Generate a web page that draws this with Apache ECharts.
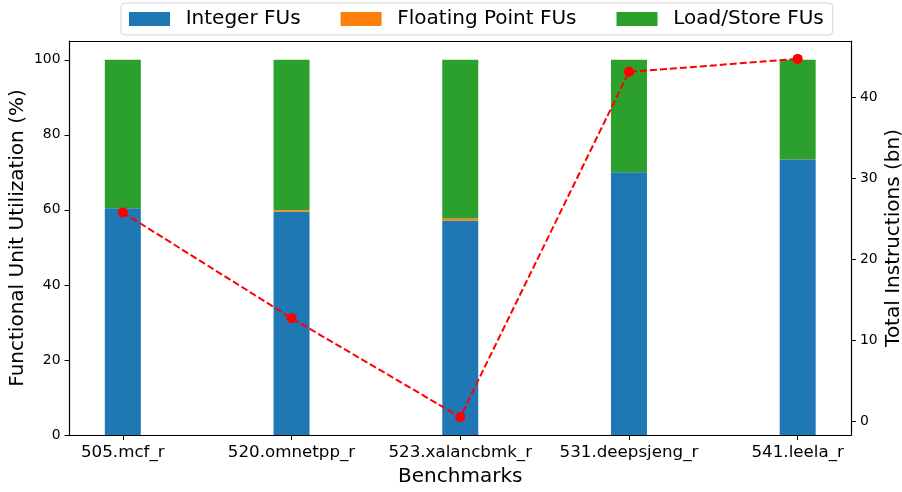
<!DOCTYPE html>
<html>
<head>
<meta charset="utf-8">
<script src="https://cdn.jsdelivr.net/npm/echarts@6/dist/echarts.min.js"></script>
<style>
  html, body { margin: 0; padding: 0; background: #fff; }
  #chart { width: 902px; height: 492px; }
</style>
</head>
<body>
<div id="chart"></div>
<script>
// Benchmarks and their functional-unit utilisation split (%)
const benchmarks = ['505.mcf_r', '520.omnetpp_r', '523.xalancbmk_r', '531.deepsjeng_r', '541.leela_r'];
const integerFUs = [60.4, 59.5, 57.1, 70.0, 73.5];
const floatFUs = [0.05, 0.4, 0.6, 0.02, 0.02];
const loadStoreFUs = [39.55, 40.1, 42.3, 29.98, 26.48];
// Total dynamic instructions per benchmark (billions)
const totalInstructions = [25.75, 12.7, 0.49, 43.09, 44.69];
const leftTicks = [0, 20, 40, 60, 80, 100];
const rightTicks = [0, 10, 20, 30, 40];

const FONT = 'DejaVu Sans';
const BAR_PX = 36;
const idx = benchmarks.map((_, i) => i);

// Stack the three utilisation components: each segment is [index, base, top]
const layers = [integerFUs, floatFUs, loadStoreFUs];
const running = benchmarks.map(() => 0);
const stacked = layers.map(vals => vals.map((v, i) => {
  const seg = [i, running[i], running[i] + v];
  running[i] += v;
  return seg;
}));

function renderSegment(params, api) {
  const x = api.value(0);
  const p0 = api.coord([x, api.value(1)]);
  const p1 = api.coord([x, api.value(2)]);
  return {
    type: 'rect',
    shape: { x: p0[0] - BAR_PX / 2, y: p1[1], width: BAR_PX, height: p0[1] - p1[1] },
    style: { fill: api.visual('color') }
  };
}

const barSeries = (name, k, color) => ({
  name, type: 'custom', xAxisIndex: 0, yAxisIndex: 0,
  renderItem: renderSegment,
  encode: { x: 0, y: [1, 2] },
  data: stacked[k],
  itemStyle: { color }, emphasis: { disabled: true }, z: 2
});

const chart = echarts.init(document.getElementById('chart'), null, { renderer: 'canvas' });

chart.setOption({
  animation: false,
  textStyle: { fontFamily: FONT, color: '#000' },
  grid: { left: 69.5, right: 51, top: 41, bottom: 57, containLabel: false, outerBoundsMode: 'none' },
  legend: {
    data: ['Integer FUs', 'Floating Point FUs', 'Load/Store FUs'],
    left: 121, top: 3,
    itemWidth: 41, itemHeight: 14, itemGap: 40,
    padding: [6, 9, 6, 8],
    backgroundColor: '#fff', borderColor: '#d6d6d6', borderWidth: 1, borderRadius: 4,
    textStyle: { fontFamily: FONT, fontSize: 20, color: '#000', padding: [0, 0, 0, 10.7] },
    icon: 'rect', selectedMode: false
  },
  xAxis: [{
    type: 'value', position: 'bottom', min: -0.316, max: 4.316,
    name: 'Benchmarks', nameLocation: 'middle', nameGap: 32, nameMoveOverlap: false,
    nameTextStyle: { fontFamily: FONT, fontSize: 20, color: '#000' },
    axisLine: { show: true, onZero: false, lineStyle: { color: '#000', width: 1.2 } },
    axisTick: { show: true, length: 5, customValues: idx, lineStyle: { color: '#000', width: 1 } },
    axisLabel: { customValues: idx, margin: 9, fontFamily: FONT, fontSize: 16.7, color: '#000',
                 formatter: v => benchmarks[Math.round(v)] },
    splitLine: { show: false }
  }, {
    type: 'value', position: 'top', min: -0.316, max: 4.316,
    axisLine: { show: true, onZero: false, lineStyle: { color: '#000', width: 1.2 } },
    axisTick: { show: false }, axisLabel: { show: false }, splitLine: { show: false }
  }],
  yAxis: [{
    type: 'value', position: 'left', min: 0, max: 105,
    name: 'Functional Unit Utilization (%)', nameLocation: 'middle', nameGap: 42, nameRotate: 90,
    nameMoveOverlap: false,
    nameTextStyle: { fontFamily: FONT, fontSize: 20, color: '#000' },
    axisLine: { show: true, onZero: false, lineStyle: { color: '#000', width: 1.2 } },
    axisTick: { show: true, length: 5, customValues: leftTicks, lineStyle: { color: '#000', width: 1 } },
    axisLabel: { customValues: leftTicks, margin: 9, fontFamily: FONT, fontSize: 13.9, color: '#000' },
    splitLine: { show: false }
  }, {
    type: 'value', position: 'right', min: -1.72, max: 46.9,
    name: 'Total Instructions (bn)', nameLocation: 'middle', nameGap: 33, nameRotate: 90,
    nameMoveOverlap: false,
    nameTextStyle: { fontFamily: FONT, fontSize: 20, color: '#000' },
    axisLine: { show: true, onZero: false, lineStyle: { color: '#000', width: 1.2 } },
    axisTick: { show: true, length: 5, customValues: rightTicks, lineStyle: { color: '#000', width: 1 } },
    axisLabel: { customValues: rightTicks, margin: 9, fontFamily: FONT, fontSize: 13.9, color: '#000' },
    splitLine: { show: false }
  }],
  series: [
    barSeries('Integer FUs', 0, '#1f77b4'),
    barSeries('Floating Point FUs', 1, '#ff7f0e'),
    barSeries('Load/Store FUs', 2, '#2ca02c'),
    {
      name: 'Total Instructions', type: 'line', xAxisIndex: 0, yAxisIndex: 1,
      data: totalInstructions.map((v, i) => [i, v]),
      symbol: 'circle', symbolSize: 10, showSymbol: true,
      lineStyle: { color: '#ff0000', width: 2, type: [7, 3] },
      itemStyle: { color: '#ff0000' },
      emphasis: { disabled: true }, z: 5
    }
  ]
});
</script>
</body>
</html>
